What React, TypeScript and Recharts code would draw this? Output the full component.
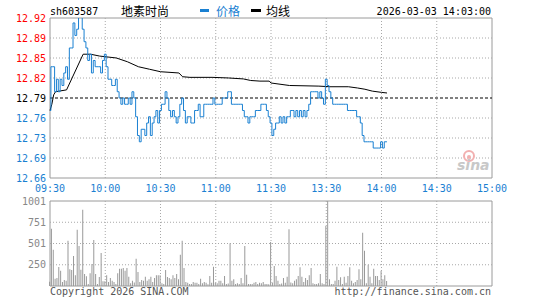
import React from 'react';
import { ComposedChart, BarChart, Line, Bar, XAxis, YAxis, ReferenceLine, ReferenceArea } from 'recharts';

// ---- data ----
const stockCode = 'sh603587';
const stockName = '地素时尚';
const timestamp = '2026-03-03 14:03:00';
const prevClose = 12.79;
const pctTicks = [-1, -0.75, -0.5, -0.25, 0, 0.25, 0.5, 0.75, 1];
const timeTicks = [0, 30, 60, 90, 120, 150, 180, 210, 240];
const timeLabels = ['09:30', '10:00', '10:30', '11:00', '11:30', '13:30', '14:00', '14:30', '15:00'];
const volTicks = [250.25, 500.5, 750.75, 1001];

const prices = [
  12.77, 12.84, 12.84, 12.80, 12.82, 12.80, 12.82, 12.81, 12.83, 12.84,
  12.82, 12.87, 12.87, 12.91, 12.89, 12.90, 12.92, 12.92, 12.90, 12.88,
  12.87, 12.85, 12.86, 12.83, 12.85, 12.84, 12.84, 12.84, 12.83, 12.85,
  12.86, 12.84, 12.82, 12.82, 12.81, 12.81, 12.82, 12.80, 12.79, 12.78,
  12.79, 12.78, 12.78, 12.79, 12.78, 12.80, 12.79, 12.76, 12.73, 12.72,
  12.74, 12.74, 12.73, 12.75, 12.76, 12.73, 12.75, 12.76, 12.77, 12.75,
  12.77, 12.78, 12.78, 12.80, 12.79, 12.77, 12.76, 12.77, 12.76, 12.75,
  12.76, 12.78, 12.79, 12.77, 12.75, 12.76, 12.76, 12.75, 12.75, 12.77,
  12.77, 12.78, 12.76, 12.76, 12.78, 12.78, 12.78, 12.78, 12.78, 12.79,
  12.78, 12.78, 12.78, 12.78, 12.79, 12.79, 12.79, 12.80, 12.80, 12.78,
  12.78, 12.78, 12.78, 12.78, 12.78, 12.77, 12.76, 12.76, 12.75, 12.76,
  12.76, 12.76, 12.77, 12.77, 12.77, 12.78, 12.78, 12.78, 12.77, 12.76,
  12.75, 12.73, 12.74, 12.75, 12.75, 12.76, 12.75, 12.76, 12.75, 12.76,
  12.76, 12.77, 12.77, 12.76, 12.77, 12.76, 12.77, 12.76, 12.77, 12.76,
  12.77, 12.78, 12.80, 12.80, 12.80, 12.80, 12.79, 12.80, 12.79, 12.78,
  12.82, 12.81, 12.80, 12.79, 12.78, 12.78, 12.78, 12.78, 12.78, 12.78,
  12.78, 12.78, 12.77, 12.77, 12.77, 12.77, 12.77, 12.76, 12.76, 12.75,
  12.73, 12.72, 12.72, 12.72, 12.72, 12.72, 12.71, 12.71, 12.71, 12.71,
  12.72, 12.71, 12.72, 12.72,
];

const avgIdx = [0, 1, 2, 3, 9, 18, 22, 27, 36, 42, 48, 54, 60, 70, 72, 76, 88, 97, 105, 109, 114, 119, 120, 130, 146, 152, 162, 167, 171, 175, 180, 183];
const avgVal = [12.77, 12.78, 12.795, 12.80, 12.803, 12.86, 12.86, 12.857, 12.854, 12.848, 12.84, 12.836, 12.832, 12.83, 12.824, 12.823, 12.823, 12.822, 12.8205, 12.818, 12.817, 12.817, 12.814, 12.81, 12.809, 12.808, 12.808, 12.806, 12.804, 12.801, 12.799, 12.798];

const volumes = [
  50, 675, 428, 86, 94, 224, 180, 47, 71, 63,
  534, 196, 188, 353, 126, 663, 471, 192, 899, 141,
  114, 24, 149, 259, 542, 141, 24, 106, 389, 55,
  55, 126, 47, 94, 63, 47, 24, 149, 204, 204,
  212, 180, 212, 110, 31, 63, 40, 322, 165, 47,
  71, 63, 110, 63, 79, 110, 47, 94, 126, 126,
  126, 31, 24, 188, 106, 94, 79, 126, 94, 141,
  79, 369, 534, 212, 47, 39, 24, 24, 47, 39,
  39, 24, 86, 31, 47, 39, 20, 118, 39, 228,
  39, 31, 63, 63, 31, 118, 24, 30, 502, 63,
  79, 24, 31, 24, 94, 31, 471, 133, 24, 24,
  24, 39, 47, 24, 39, 31, 47, 24, 24, 20,
  518, 40, 235, 118, 63, 24, 30, 94, 39, 110,
  667, 40, 31, 63, 79, 118, 220, 110, 47, 94,
  71, 126, 212, 31, 24, 24, 31, 141, 31, 24,
  706, 1001, 79, 24, 24, 63, 228, 71, 102, 24,
  110, 39, 118, 220, 63, 31, 47, 71, 196, 79,
  628, 416, 31, 251, 110, 31, 204, 118, 118, 71,
  180, 79, 126, 60,
];

// ---- table for the library ----
const priceData = prices.map((p, i) => {
  const k = avgIdx.indexOf(i);
  return { i, price: p, avg: k >= 0 ? avgVal[k] : null };
});
const volData = volumes.map((v, i) => ({ i, vol: v }));
const priceTicks = pctTicks.map((p) => prevClose * (1 + p / 100));
const pLo = priceTicks[0];
const pHi = priceTicks[priceTicks.length - 1];

// ---- styles ----
const MONO = '"DejaVu Sans Mono", "Liberation Mono", monospace';
const CJK = '"Noto Sans CJK SC", sans-serif';
const RED = '#ff0000';
const BLUE = '#1a80d2';
const GRID = '#a8a8a8';
const BORDER = '#9a9a9a';

const LeftTick = (props: any) => {
  const { y, payload } = props;
  const v = payload.value as number;
  const fill = v > prevClose + 1e-6 ? RED : v < prevClose - 1e-6 ? BLUE : '#000';
  return (
    <text x={46} y={y} dy={3.5} textAnchor="end" fill={fill} fontFamily={MONO} fontSize={10}>
      {v.toFixed(2)}
    </text>
  );
};

const RightTick = (props: any) => {
  const { y, payload } = props;
  const v = payload.value as number;
  const fill = v > 0 ? RED : v < 0 ? BLUE : '#000';
  const s = v > 0 ? '+' + v.toFixed(2) + '%' : v.toFixed(2) + '%';
  return (
    <text x={531} y={y} dy={3.5} textAnchor="end" fill={fill} fontFamily={MONO} fontSize={10}>
      {s}
    </text>
  );
};

const TimeTick = (props: any) => {
  const { x, payload, index } = props;
  const idx = timeTicks.indexOf(payload.value);
  return (
    <text x={x} y={192} textAnchor="middle" fill={BLUE} fontFamily={MONO} fontSize={10}>
      {timeLabels[idx >= 0 ? idx : index]}
    </text>
  );
};

const VolTick = (props: any) => {
  const { y, payload } = props;
  return (
    <text x={46} y={y} dy={3.5} textAnchor="end" fill="#888" fontFamily={MONO} fontSize={10}>
      {Math.round(payload.value)}
    </text>
  );
};

export default function App() {
  return (
    <div style={{ position: 'absolute', left: 0, top: 0, width: 545, height: 300, background: '#fff' }}>
      <div style={{ position: 'absolute', left: 0, top: 0 }}>
        <ComposedChart width={545} height={200} data={priceData} margin={{ top: 18, right: 0, bottom: 0, left: 0 }}>
          <XAxis dataKey="i" type="number" domain={[0, 240]} ticks={timeTicks} tick={<TimeTick />} axisLine={false} tickLine={false} height={22} interval={0} />
          <YAxis yAxisId="p" domain={[pLo, pHi]} ticks={priceTicks} tick={<LeftTick />} axisLine={false} tickLine={false} width={50} interval={0} allowDataOverflow />
          <YAxis yAxisId="pct" orientation="right" domain={[-1, 1]} ticks={pctTicks} tick={<RightTick />} axisLine={false} tickLine={false} width={53} interval={0} />
          {priceTicks.slice(1, -1).map((t, k) =>
            Math.abs(t - prevClose) < 1e-6 ? null : (
              <ReferenceLine key={'h' + k} yAxisId="p" y={t} stroke={GRID} strokeDasharray="1 2" />
            )
          )}
          {timeTicks.slice(1, -1).map((t) => (
            <ReferenceLine key={'v' + t} yAxisId="p" x={t} stroke={GRID} strokeDasharray="1 2" />
          ))}
          <ReferenceLine yAxisId="p" y={prevClose} stroke="#000" strokeDasharray="3 2" />
          <ReferenceArea yAxisId="p" x1={0} x2={240} y1={pLo} y2={pHi} fill="none" stroke={BORDER} strokeWidth={1} fillOpacity={0} />
          <Line yAxisId="p" dataKey="avg" type="linear" stroke="#000" strokeWidth={1} dot={false} connectNulls isAnimationActive={false} />
          <Line yAxisId="p" dataKey="price" type="step" stroke={BLUE} strokeWidth={1} dot={false} isAnimationActive={false} />
        </ComposedChart>
      </div>
      <div style={{ position: 'absolute', left: 0, top: 190 }}>
        <BarChart width={545} height={110} data={volData} margin={{ top: 11, right: 53, bottom: 14, left: 0 }} barCategoryGap={0}>
          <XAxis dataKey="i" type="number" domain={[0, 240]} ticks={timeTicks} hide />
          <YAxis domain={[0, 1001]} ticks={volTicks} tick={<VolTick />} axisLine={false} tickLine={false} width={50} interval={0} />
          {volTicks.slice(0, -1).map((t) => (
            <ReferenceLine key={'vh' + t} y={t} stroke={GRID} strokeDasharray="1 2" />
          ))}
          {timeTicks.slice(1, -1).map((t) => (
            <ReferenceLine key={'vv' + t} x={t} stroke={GRID} strokeDasharray="1 2" />
          ))}
          <ReferenceArea x1={0} x2={240} y1={0} y2={1001} fill="none" stroke={BORDER} strokeWidth={1} fillOpacity={0} />
          <Bar dataKey="vol" fill="#999" barSize={1} isAnimationActive={false} />
        </BarChart>
      </div>
      <svg width={545} height={300} style={{ position: 'absolute', left: 0, top: 0, pointerEvents: 'none' }}>
        <text x={50} y={15} fontFamily={MONO} fontSize={10} fill="#000">{stockCode}</text>
        <text x={121} y={16} fontFamily={CJK} fontSize={12} fill="#000">{stockName}</text>
        <rect x={200} y={9} width={9} height={3} fill={BLUE} />
        <text x={216} y={16} fontFamily={CJK} fontSize={12} fill={BLUE}>价格</text>
        <rect x={251} y={9} width={10} height={3} fill="#000" />
        <text x={266} y={16} fontFamily={CJK} fontSize={12} fill="#000">均线</text>
        <text x={491} y={15} textAnchor="end" fontFamily={MONO} fontSize={10} fill="#000">{timestamp}</text>
        <circle cx={469} cy={156} r={5} fill="none" stroke="#f2b0b0" strokeWidth={2} />
        <circle cx={469} cy={157} r={2} fill="#f2b0b0" />
        <text x={457} y={170} fontFamily="'DejaVu Sans', sans-serif" fontStyle="italic" fontWeight="bold" fontSize={14} fill="#c8c8c8">sina</text>
        <text x={50} y={295} fontFamily={MONO} fontSize={10} fill="#555">Copyright 2026 SINA.COM</text>
        <text x={491} y={295} textAnchor="end" fontFamily={MONO} fontSize={10} fill="#555">http://finance.sina.com.cn</text>
      </svg>
    </div>
  );
}
